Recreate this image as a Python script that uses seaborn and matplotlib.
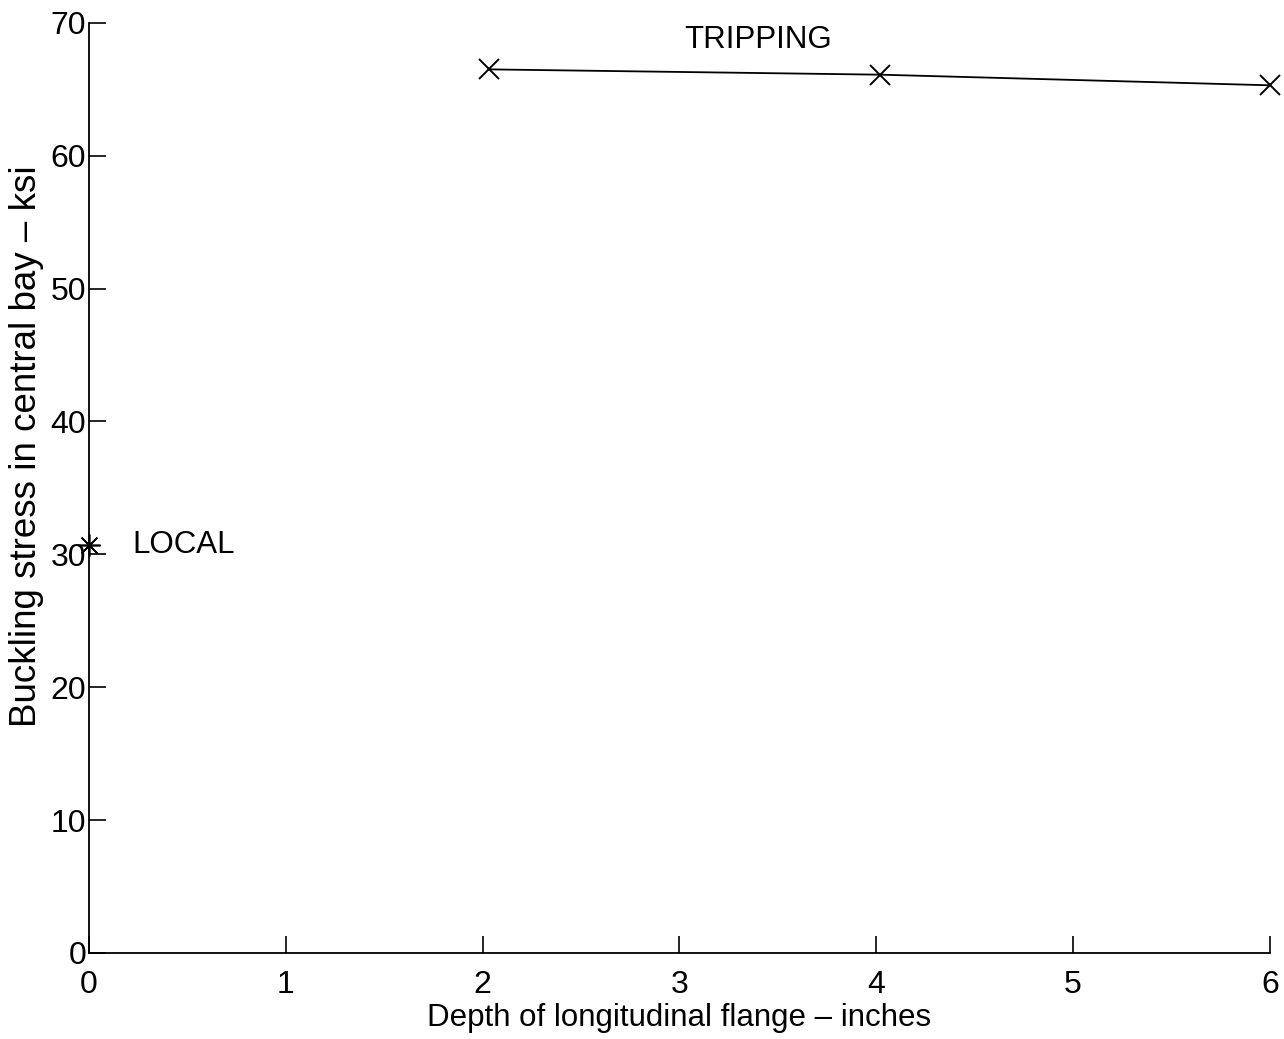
import matplotlib
matplotlib.use('Agg')

import matplotlib.pyplot as plt
import seaborn as sb
import pandas as pd

# data
trip_depth = [2.03, 4.02, 6.0]
trip_stress = [66.5, 66.1, 65.3]
local_depth = [0.0]
local_stress = [30.7]

sb.set_style("ticks", {'text.color': 'black', 'xtick.color': 'black',
                       'ytick.color': 'black', 'axes.labelcolor': 'black'})
plt.rcParams['font.family'] = ['Liberation Sans', 'DejaVu Sans']

trip = pd.DataFrame({'depth': trip_depth, 'stress': trip_stress})
local = pd.DataFrame({'depth': local_depth, 'stress': local_stress})

fig = plt.figure(figsize=(12.84, 10.39), dpi=100)
ax = fig.add_axes([0.0693, 0.0828, 0.9197, 0.8952])

sb.lineplot(data=trip, x='depth', y='stress', color='black', lw=1.3,
            marker='x', markersize=14, markeredgewidth=1.4,
            markeredgecolor='black', ax=ax, clip_on=False)
ax.plot(local['depth'], local['stress'], ls='none', color='black',
        marker=(8, 2, 0), markersize=16, markeredgewidth=1.2, clip_on=False)

ax.text(3.4, 68.7, 'TRIPPING', fontsize=22.5, ha='center', va='center')
ax.text(0.22, 30.7, 'LOCAL', fontsize=22.5, ha='left', va='center')

ax.set_xlim(0, 6)
ax.set_ylim(0, 70)
ax.set_xticks(range(0, 7))
ax.set_yticks(range(0, 71, 10))
ax.tick_params(direction='in', length=12, width=1.2, labelsize=23)
ax.tick_params(axis='x', pad=12)
ax.tick_params(axis='y', pad=2)
ax.set_xlabel('Depth of longitudinal flange \u2013 inches', fontsize=22.5)
ax.set_ylabel('Buckling stress in central bay \u2013 ksi', fontsize=26.5)
ax.xaxis.set_label_coords(0.5, -0.054)
ax.yaxis.set_label_coords(-0.038, 0.545)
for s in ['top', 'right']:
    ax.spines[s].set_visible(False)
for s in ['left', 'bottom']:
    ax.spines[s].set_linewidth(1.3)
    ax.spines[s].set_color('black')

plt.savefig('out.png', dpi=100)
